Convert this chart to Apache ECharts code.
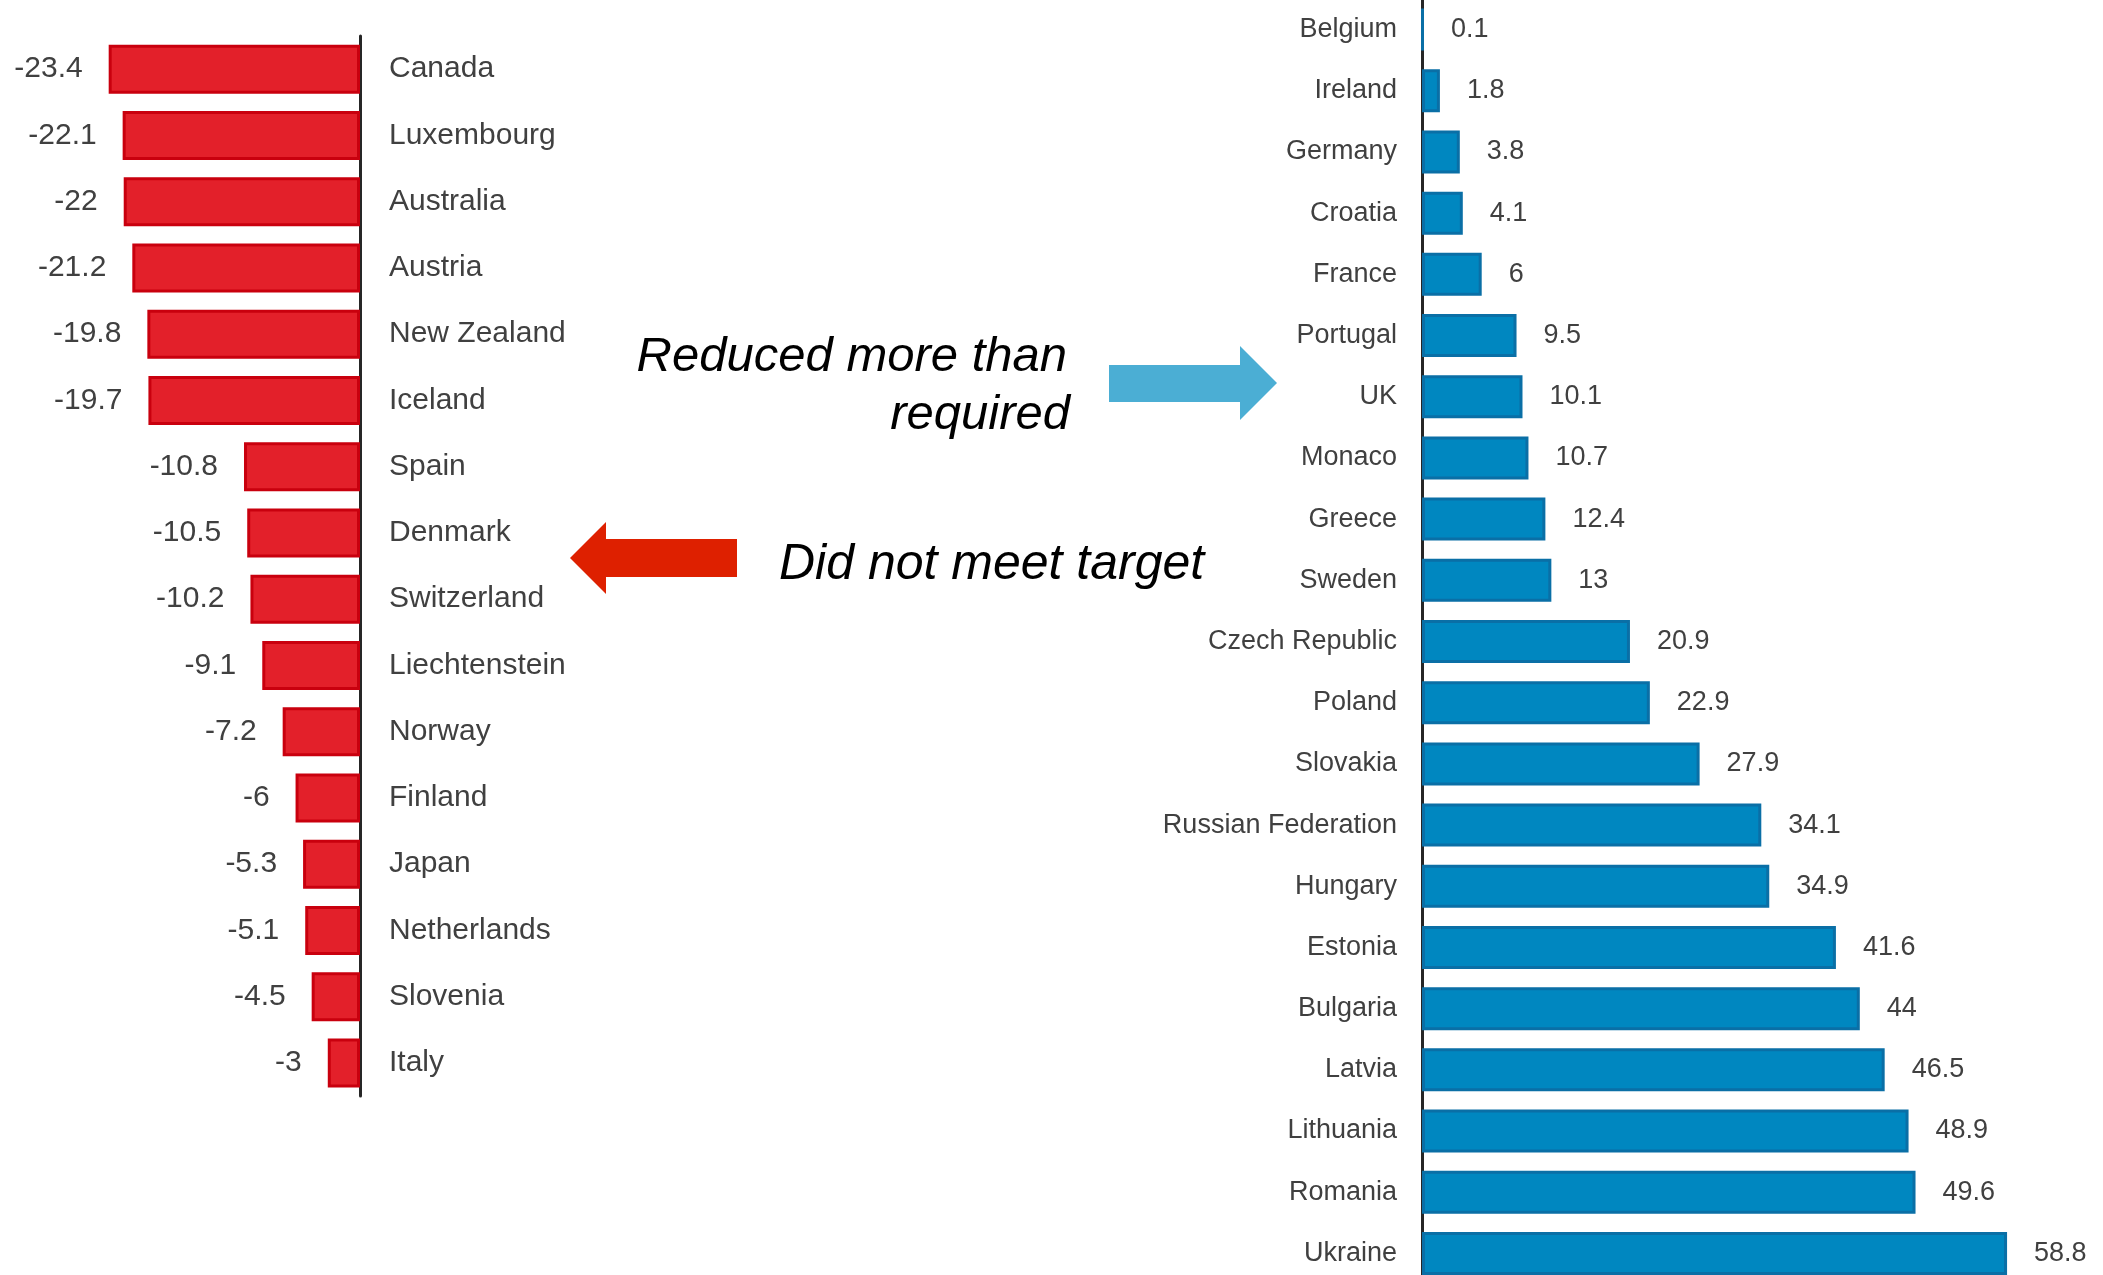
<!DOCTYPE html>
<html>
<head>
<meta charset="utf-8">
<title>Emission change versus target</title>
<script src="https://cdn.jsdelivr.net/npm/echarts@6/dist/echarts.min.js"></script>
<style>
  html, body { margin: 0; padding: 0; background: #ffffff; }
  #chart { width: 2103px; height: 1275px; }
</style>
</head>
<body>
<div id="chart"></div>
<script>
// Countries that did not meet their target (percentage points)
const shortfallCountries = ['Canada', 'Luxembourg', 'Australia', 'Austria', 'New Zealand', 'Iceland',
  'Spain', 'Denmark', 'Switzerland', 'Liechtenstein', 'Norway', 'Finland', 'Japan',
  'Netherlands', 'Slovenia', 'Italy'];
const shortfallValues = [-23.4, -22.1, -22, -21.2, -19.8, -19.7, -10.8, -10.5, -10.2, -9.1,
  -7.2, -6, -5.3, -5.1, -4.5, -3];

// Countries that reduced more than required (percentage points)
const surplusCountries = ['Belgium', 'Ireland', 'Germany', 'Croatia', 'France', 'Portugal', 'UK',
  'Monaco', 'Greece', 'Sweden', 'Czech Republic', 'Poland', 'Slovakia', 'Russian Federation',
  'Hungary', 'Estonia', 'Bulgaria', 'Latvia', 'Lithuania', 'Romania', 'Ukraine'];
const surplusValues = [0.1, 1.8, 3.8, 4.1, 6, 9.5, 10.1, 10.7, 12.4, 13, 20.9, 22.9, 27.9,
  34.1, 34.9, 41.6, 44, 46.5, 48.9, 49.6, 58.8];

const FONT = "'Liberation Sans', Arial, sans-serif";
const TEXT_GREY = '#404040';

const chart = echarts.init(document.getElementById('chart'), null, { renderer: 'canvas' });

chart.setOption({
  backgroundColor: '#ffffff',
  animation: false,
  grid: [
    { left: 91.5, width: 268.5, top: 36, height: 1060, containLabel: false, outerBoundsMode: 'none' },
    // the lower panel runs slightly past the bottom edge of the page
    { left: 1422, width: 597, top: -1, bottom: -9, containLabel: false, outerBoundsMode: 'none' }
  ],
  xAxis: [
    { gridIndex: 0, type: 'value', min: -25, max: 0, show: false },
    { gridIndex: 1, type: 'value', min: 0, max: 60, show: false }
  ],
  yAxis: [
    {
      gridIndex: 0, type: 'category', data: shortfallCountries, inverse: true, position: 'right',
      axisLine: { show: true, lineStyle: { color: '#262626', width: 3 } },
      axisTick: { show: false },
      axisLabel: { margin: 29, fontSize: 30, color: TEXT_GREY, fontFamily: FONT }
    },
    {
      gridIndex: 1, type: 'category', data: surplusCountries, inverse: true, position: 'left',
      axisLine: { show: true, lineStyle: { color: '#262626', width: 3 } },
      axisTick: { show: false },
      axisLabel: { margin: 25, fontSize: 27, color: TEXT_GREY, fontFamily: FONT }
    }
  ],
  series: [
    {
      type: 'bar', xAxisIndex: 0, yAxisIndex: 0, data: shortfallValues, barWidth: 49,
      itemStyle: { color: '#E3202A', borderColor: '#C9000E', borderWidth: 3 },
      label: { show: true, position: 'left', distance: 26, fontSize: 30, color: TEXT_GREY, fontFamily: FONT }
    },
    {
      type: 'bar', xAxisIndex: 1, yAxisIndex: 1, data: surplusValues, barWidth: 43,
      itemStyle: { color: '#0087C0', borderColor: '#0A6FA6', borderWidth: 3 },
      label: { show: true, position: 'right', distance: 27, fontSize: 27, color: TEXT_GREY, fontFamily: FONT }
    }
  ],
  graphic: [
    // right-pointing callout arrow
    {
      type: 'polygon', z: 10,
      shape: { points: [[1109, 365], [1240, 365], [1240, 346], [1277, 383], [1240, 420], [1240, 402], [1109, 402]] },
      style: { fill: '#4BAED4' }
    },
    // left-pointing callout arrow
    {
      type: 'polygon', z: 10,
      shape: { points: [[737, 539], [606, 539], [606, 522], [570, 558], [606, 594], [606, 577], [737, 577]] },
      style: { fill: '#DE2000' }
    },
    {
      type: 'text', z: 10, x: 1067, y: 357,
      style: { text: 'Reduced more than', fill: '#000', font: 'italic 49px ' + FONT, align: 'right', verticalAlign: 'middle' }
    },
    {
      type: 'text', z: 10, x: 1070, y: 415,
      style: { text: 'required', fill: '#000', font: 'italic 49px ' + FONT, align: 'right', verticalAlign: 'middle' }
    },
    {
      type: 'text', z: 10, x: 779, y: 565,
      style: { text: 'Did not meet target', fill: '#000', font: 'italic 50px ' + FONT, align: 'left', verticalAlign: 'middle' }
    }
  ]
});
</script>
</body>
</html>
